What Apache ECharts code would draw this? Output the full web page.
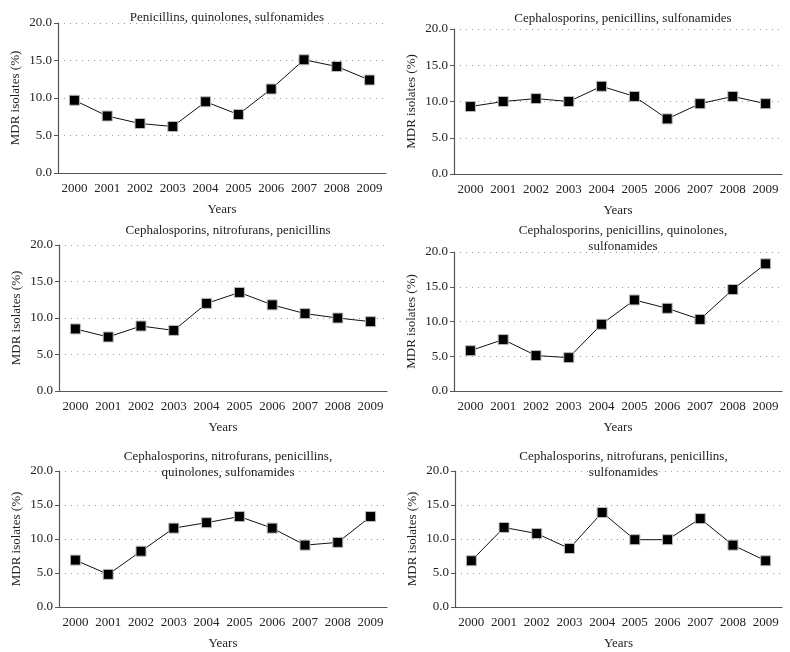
<!DOCTYPE html>
<html>
<head>
<meta charset="utf-8">
<script src="https://cdn.jsdelivr.net/npm/echarts@6/dist/echarts.min.js"></script>
<style>
  html, body { margin: 0; padding: 0; background: #fff; }
  #chart { width: 790px; height: 652px; }
</style>
</head>
<body>
<div id="chart"></div>
<script>
// years on the x axis
var years = ["2000", "2001", "2002", "2003", "2004", "2005", "2006", "2007", "2008", "2009"];

// MDR isolates (%) per antibiotic combination
var penQuiSul = [9.7, 7.6, 6.6, 6.2, 9.5, 7.8, 11.2, 15.1, 14.2, 12.4];
var cepPenSul = [9.3, 10.0, 10.4, 10.0, 12.1, 10.7, 7.6, 9.7, 10.7, 9.7];
var cepNitPen = [8.5, 7.4, 8.9, 8.3, 12.0, 13.5, 11.8, 10.6, 10.0, 9.5];
var cepPenQuiSul = [5.8, 7.4, 5.1, 4.8, 9.6, 13.1, 11.9, 10.3, 14.6, 18.3];
var cepNitPenQuiSul = [6.9, 4.8, 8.2, 11.6, 12.4, 13.3, 11.6, 9.1, 9.5, 13.3];
var cepNitPenSul = [6.8, 11.7, 10.8, 8.6, 13.9, 9.9, 9.9, 13.0, 9.1, 6.8];

var titles = [
  "Penicillins, quinolones, sulfonamides",
  "Cephalosporins, penicillins, sulfonamides",
  "Cephalosporins, nitrofurans, penicillins",
  "Cephalosporins, penicillins, quinolones,\nsulfonamides",
  "Cephalosporins, nitrofurans, penicillins,\nquinolones, sulfonamides",
  "Cephalosporins, nitrofurans, penicillins,\nsulfonamides"
];
var allData = [penQuiSul, cepPenSul, cepNitPen, cepPenQuiSul, cepNitPenQuiSul, cepNitPenSul];

// plot boxes [left, top, width, height]
var boxes = [
  [58, 23, 328, 150],
  [454, 29, 328, 145],
  [59, 245, 328, 146],
  [454, 252, 328, 139],
  [59, 471, 328, 136],
  [455, 471, 327, 136]
];
// title top for each panel
var titleTops = [5, 6, 218, 218, 444, 444];

var font = "Liberation Serif";
var textColor = "#222";

var grids = [], xAxes = [], yAxes = [], series = [], titleList = [];

boxes.forEach(function (b, i) {
  grids.push({ left: b[0], top: b[1], width: b[2], height: b[3] });
  titleList.push({
    text: titles[i],
    left: b[0] + b[2] / 2,
    top: titleTops[i],
    textAlign: "center",
    textStyle: {
      fontFamily: font,
      fontSize: 13,
      fontWeight: "normal",
      color: textColor,
      lineHeight: 16
    }
  });
  xAxes.push({
    gridIndex: i,
    type: "category",
    data: years,
    boundaryGap: true,
    name: "Years",
    nameLocation: "middle",
    nameGap: 30,
    nameTextStyle: { fontFamily: font, fontSize: 13, color: textColor },
    axisLine: { lineStyle: { color: "#555", width: 1.2 } },
    axisTick: { alignWithLabel: false, length: 4, lineStyle: { color: "#555" } },
    axisLabel: { fontFamily: font, fontSize: 13, color: textColor, margin: 9, interval: 0 },
    splitLine: { show: false }
  });
  yAxes.push({
    gridIndex: i,
    type: "value",
    min: 0,
    max: 20,
    interval: 5,
    name: "MDR isolates (%)",
    nameLocation: "middle",
    nameGap: 36,
    nameTextStyle: { fontFamily: font, fontSize: 13, color: textColor },
    axisLine: { show: true, lineStyle: { color: "#555", width: 1.2 } },
    axisTick: { show: true, length: 4, lineStyle: { color: "#555" } },
    axisLabel: {
      fontFamily: font, fontSize: 13, color: textColor, margin: 6,
      formatter: function (v) { return v.toFixed(1); }
    },
    splitLine: { show: true, lineStyle: { color: "#999", width: 1, type: [1, 5] } }
  });
  series.push({
    type: "line",
    xAxisIndex: i,
    yAxisIndex: i,
    data: allData[i],
    symbol: "rect",
    symbolSize: 10,
    lineStyle: { color: "#111", width: 1 },
    itemStyle: { color: "#000", borderColor: "#bbb", borderWidth: 1 },
    emphasis: { disabled: true },
    z: 5
  });
});

var chart = echarts.init(document.getElementById("chart"));
chart.setOption({
  animation: false,
  title: titleList,
  grid: grids,
  xAxis: xAxes,
  yAxis: yAxes,
  series: series
});
</script>
</body>
</html>
